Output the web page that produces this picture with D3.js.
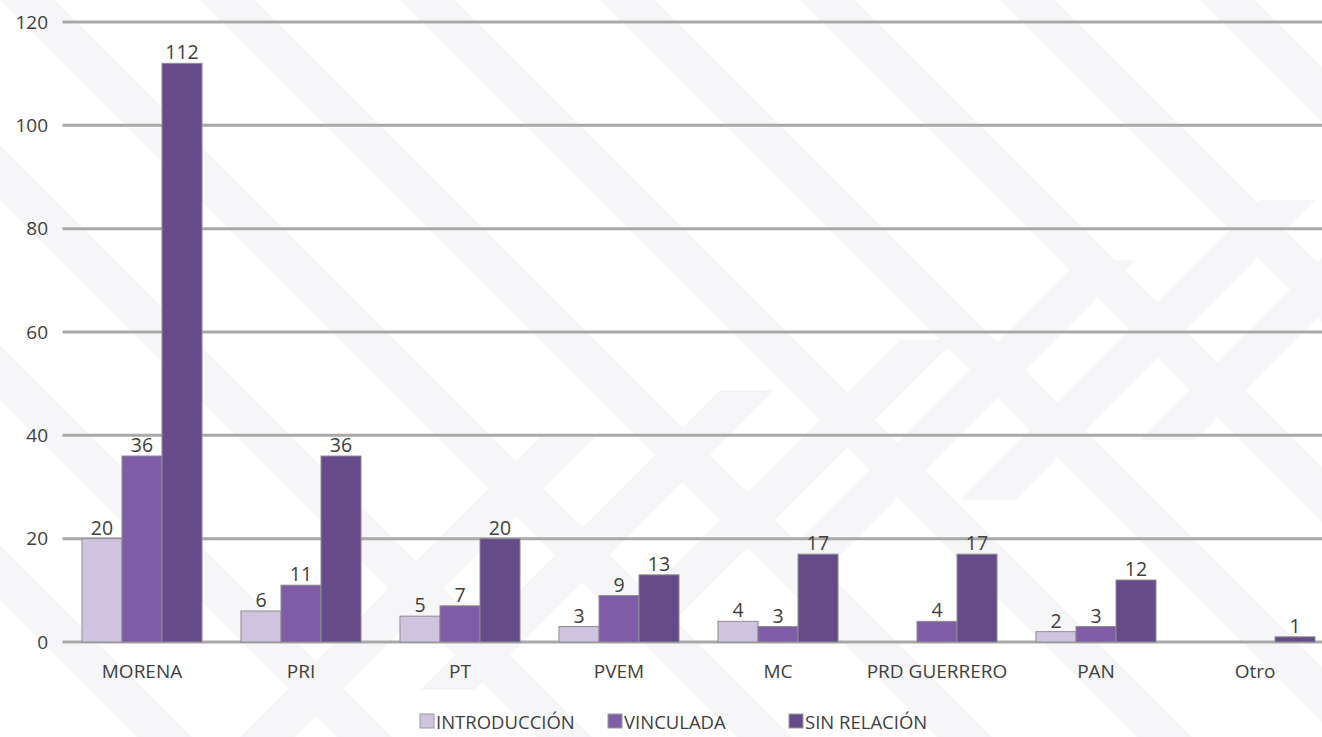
<!DOCTYPE html>
<html>
<head>
<meta charset="utf-8">
<script src="https://cdn.jsdelivr.net/npm/d3@7"></script>
<style>
  body { margin: 0; background: #ffffff; }
  svg { display: block; }
  text { font-family: "Open Sans", "Liberation Sans", sans-serif; fill: #404040; }
</style>
</head>
<body>
<div id="chart"></div>
<script>
////////////////////////////////////////////////////////////////////////
// chart data
////////////////////////////////////////////////////////////////////////
var partidos = ["MORENA", "PRI", "PT", "PVEM", "MC", "PRD GUERRERO", "PAN", "Otro"];
var series = ["INTRODUCCIÓN", "VINCULADA", "SIN RELACIÓN"];
var introduccion = [20, 6, 5, 3, 4, 0, 2, 0];
var vinculada = [36, 11, 7, 9, 3, 4, 3, 0];
var sinRelacion = [112, 36, 20, 13, 17, 17, 12, 1];
var yTicks = [0, 20, 40, 60, 80, 100, 120];
//              light       mid        dark
var colores = ["#cfc3df", "#7f5ca6", "#664b8b"];

var width = 1322, height = 737;
var svg = d3.select("#chart").append("svg")
  .attr("width", width)
  .attr("height", height);

//background: faint diagonal chevron bands
var bg = svg.append("g").attr("fill", "#f6f6f8");
d3.range(-6, 10).forEach(function(i)
  {
  var x0 = i * 200;
  bg.append("path")
    .attr("d", "M" + x0 + ",0 l55,0 l737,737 l-55,0 Z");
  });
[[240, 737], [420, 690], [600, 640], [780, 560], [960, 500], [1140, 440]].forEach(function(p)
  {
  bg.append("path")
    .attr("d", "M" + p[0] + "," + p[1] + " l55,0 l300,-300 l-55,0 Z");
  });

var margin = {left: 62.5, top: 22, bottom: 95};
var x0 = d3.scaleBand().domain(partidos)
  .range([margin.left, margin.left + 159 * partidos.length])
  .paddingInner(0.245).paddingOuter(0.1225);
var x1 = d3.scaleBand().domain(series).range([0, x0.bandwidth()]);
var y = d3.scaleLinear().domain([0, 120]).range([642, 22]);

//gridlines
svg.append("g").selectAll("line")
  .data(yTicks).enter().append("line")
  .attr("x1", margin.left).attr("x2", width)
  .attr("y1", function(d) { return y(d); })
  .attr("y2", function(d) { return y(d); })
  .attr("stroke", "#a9a9a9")
  .attr("stroke-width", 3);

//y axis labels
var yAxis = d3.axisLeft(y).tickValues(yTicks).tickSize(0).tickPadding(0);
var ya = svg.append("g").attr("transform", "translate(48,0)").call(yAxis);
ya.select(".domain").remove();
ya.selectAll("text").style("font-size", "19px").attr("fill", "#404040").attr("font-family", null);

//bars
var valores = [introduccion, vinculada, sinRelacion];
var filas = [];
partidos.forEach(function(p, i)
  {
  series.forEach(function(s, j)
    {
    filas.push({partido: p, serie: s, idx: j, valor: valores[j][i]});
    });
  });

var barras = svg.append("g");
barras.selectAll("rect")
  .data(filas.filter(function(d) { return d.valor > 0; }))
  .enter().append("rect")
  .attr("x", function(d) { return x0(d.partido) + x1(d.serie); })
  .attr("y", function(d) { return y(d.valor); })
  .attr("width", x1.bandwidth())
  .attr("height", function(d) { return y(0) - y(d.valor); })
  .attr("fill", function(d) { return colores[d.idx]; })
  .attr("stroke", "#8e8e8e")
  .attr("stroke-width", 1);

//value labels
barras.selectAll("text")
  .data(filas.filter(function(d) { return d.valor > 0; }))
  .enter().append("text")
  .attr("x", function(d) { return x0(d.partido) + x1(d.serie) + x1.bandwidth() / 2; })
  .attr("y", function(d) { return y(d.valor) - 4; })
  .attr("text-anchor", "middle")
  .style("font-size", "19.5px")
  .text(function(d) { return d.valor; });

//x axis labels
var xa = svg.append("g").attr("transform", "translate(0," + 664 + ")")
  .call(d3.axisBottom(x0).tickSize(0).tickPadding(0));
xa.select(".domain").remove();
xa.selectAll("text").style("font-size", "19px").attr("fill", "#404040").attr("font-family", null);

//legend
var legendX = [420, 608, 789];
var legend = svg.append("g");
series.forEach(function(s, j)
  {
  legend.append("rect")
    .attr("x", legendX[j]).attr("y", 714)
    .attr("width", 14).attr("height", 14)
    .attr("fill", colores[j])
    .attr("stroke", "#9a9a9a");
  legend.append("text")
    .attr("x", legendX[j] + 16).attr("y", 729)
    .style("font-size", "18.5px")
    .text(s);
  });
</script>
</body>
</html>
